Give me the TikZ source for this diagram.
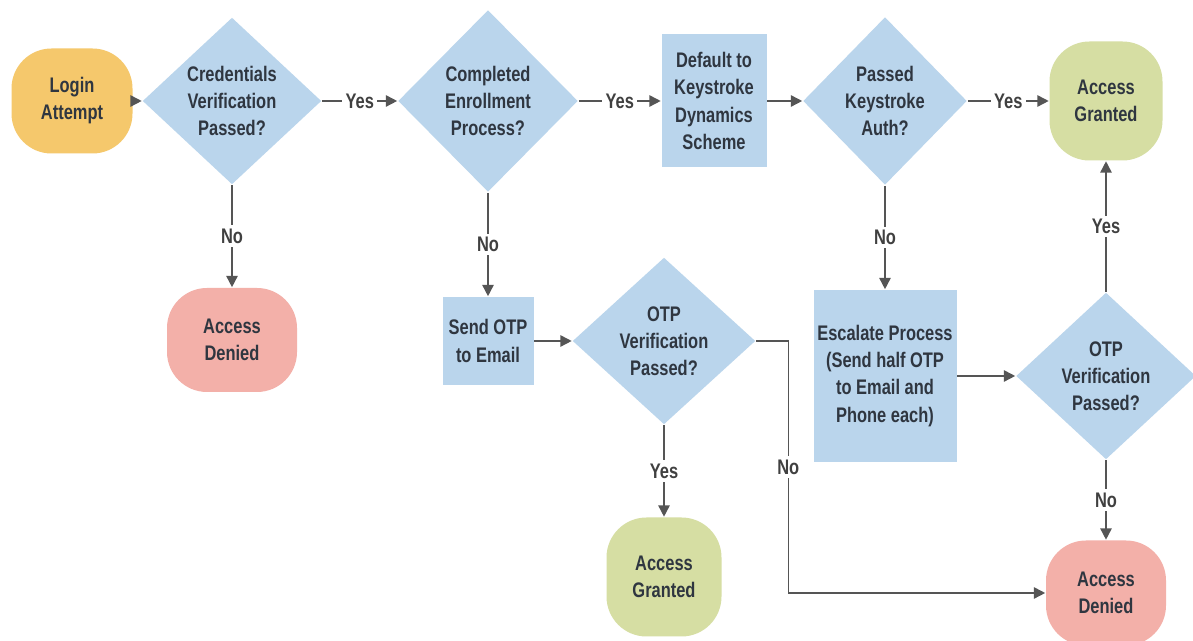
\documentclass[tikz,border=0pt]{standalone}
\usepackage{fontspec}
\setmainfont[FakeStretch=0.78]{Liberation Sans}
\usetikzlibrary{arrows.meta, shapes.geometric, positioning}

\definecolor{boxblue}{HTML}{BAD5EC}
\definecolor{startorange}{HTML}{F5C86C}
\definecolor{okgreen}{HTML}{D6DEA3}
\definecolor{denypink}{HTML}{F3B0A9}
\definecolor{linegray}{HTML}{555555}
\definecolor{txtdark}{HTML}{2F3640}

\begin{document}
\begin{tikzpicture}[
		> = {Triangle[length=6.5pt,width=6.5pt]}, % arrow head style
		line width = 0.9pt, % line style
		draw = linegray,
		node distance = 4cm % distance between nodes
		]
		
		\tikzstyle{every node}=[
		font = \bfseries\fontsize{12}{15.4}\selectfont,
		text = txtdark,
		align = center
		]
		\tikzstyle{decision}=[diamond, fill = boxblue, inner sep = 0pt]
		\tikzstyle{process}=[rectangle, fill = boxblue, inner sep = 0pt]
		\tikzstyle{terminal}=[rectangle, rounded corners = 0.8cm, inner sep = 0pt]
		\tikzstyle{lbl}=[fill = white, inner sep = 2pt, text = black!75]
		
		% canvas
		\path[use as bounding box, fill = white] (0,0) rectangle (23.86,12.82);
		
		\node[terminal, fill = startorange, minimum width = 2.42cm, minimum height = 2.1cm] (login) at (1.44,10.80) {Login\\Attempt};
		\node[decision, minimum width = 3.58cm, minimum height = 3.34cm] (cred) [right of=login, node distance=3.2cm] {Credentials\\Verification\\Passed?};
		\node[decision, minimum width = 3.6cm, minimum height = 3.64cm] (enrol) [right of=cred, node distance=5.12cm] {Completed\\Enrollment\\Process?};
		\node[process, minimum width = 2.1cm, minimum height = 2.66cm] (keydefault) [right of=enrol, node distance=4.52cm] {Default to\\Keystroke\\Dynamics\\Scheme};
		\node[decision, minimum width = 3.28cm, minimum height = 3.36cm] (keyauth) [right of=keydefault, node distance=3.42cm] {Passed\\Keystroke\\Auth?};
		\node[terminal, fill = okgreen, minimum width = 2.26cm, minimum height = 2.38cm] (grantA) [right of=keyauth, node distance=4.42cm] {Access\\Granted};
		
		\node[terminal, fill = denypink, minimum width = 2.6cm, minimum height = 2.08cm] (denyA) [below of=cred, node distance=4.78cm] {Access\\Denied};
		\node[process, minimum width = 1.82cm, minimum height = 1.76cm] (sendotp) [below of=enrol, node distance=4.8cm] {Send OTP\\to Email};
		\node[decision, minimum width = 3.66cm, minimum height = 3.34cm] (otpA) [right of=sendotp, node distance=3.52cm] {OTP\\Verification\\Passed?};
		\node[terminal, fill = okgreen, minimum width = 2.3cm, minimum height = 2.38cm] (grantB) [below of=otpA, node distance=4.72cm] {Access\\Granted};
		\node[process, minimum width = 2.86cm, minimum height = 3.44cm] (escalate) [below of=keyauth, node distance=5.5cm] {Escalate Process\\(Send half OTP\\to Email and\\Phone each)};
		\node[decision, minimum width = 3.6cm, minimum height = 3.34cm] (otpB) [right of=escalate, node distance=4.42cm] {OTP\\Verification\\Passed?};
		\node[terminal, fill = denypink, minimum width = 2.4cm, minimum height = 2.1cm] (denyB) [below of=otpB, node distance=4.34cm] {Access\\Denied};
		
		\path[->] (login) edge (cred);
		\path[->] (cred) edge node[lbl] {Yes} (enrol);
		\path[->] (enrol) edge node[lbl] {Yes} (keydefault);
		\path[->] (keydefault) edge (keyauth);
		\path[->] (keyauth) edge node[lbl] {Yes} (grantA);
		
		\path[->] (cred) edge node[lbl] {No} (denyA);
		\path[->] (enrol) edge node[lbl] {No} (sendotp);
		\path[->] (sendotp) edge (otpA);
		\path[->] (otpA) edge node[lbl] {Yes} (grantB);
		\draw[->] (otpA.east) -- ++(0.64,0) |- node[lbl, pos=0.25] {No} (denyB.west);
		
		\path[->] (keyauth) edge node[lbl] {No} (escalate);
		\path[->] (escalate) edge (otpB);
		\path[->] (otpB) edge node[lbl] {Yes} (grantA);
		\path[->] (otpB) edge node[lbl] {No} (denyB);
		
		\end{tikzpicture}
\end{document}
